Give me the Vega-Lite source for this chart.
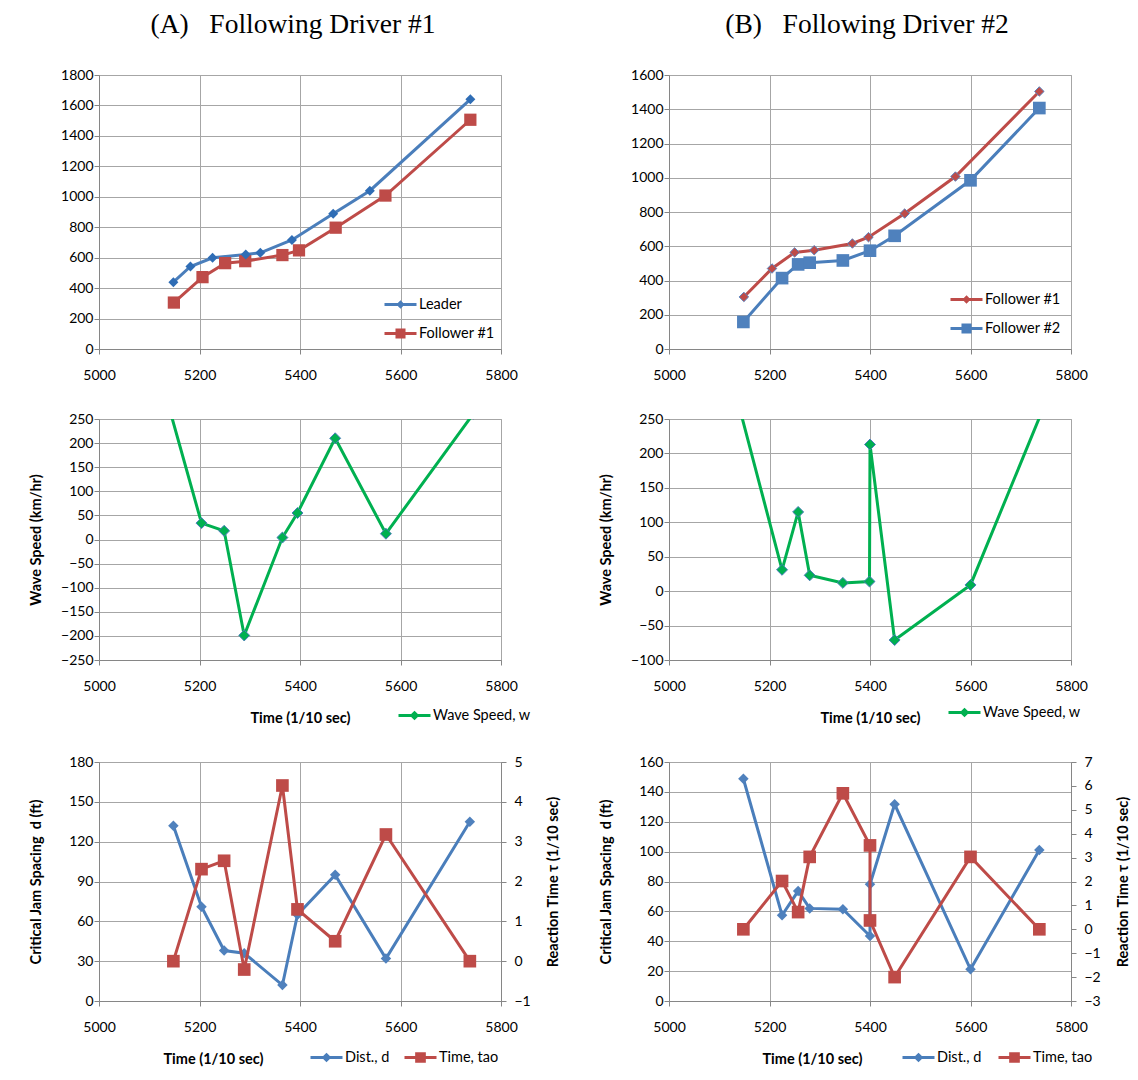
{
  "$schema": "https://vega.github.io/schema/vega-lite/v6.json",
  "padding": {"left": 27, "top": 10, "right": 2, "bottom": 2},
  "background": "white",
  "config": {
    "font": "Lato",
    "view": {"stroke": "#a6a6a6"},
    "axis": {"labelFont": "Lato", "labelFontSize": 14, "labelColor": "#000000", "titleFont": "Lato", "titleFontSize": 14.5, "titleFontWeight": "bold", "titleColor": "#000000", "gridColor": "#a6a6a6", "gridWidth": 1, "domainColor": "#868686", "tickColor": "#868686", "tickSize": 5, "labelOverlap": false, "labelFlush": false, "format": "d"},
    "axisX": {"labelPadding": 14, "titlePadding": 18},
    "axisY": {"labelPadding": 1},
    "legend": {"labelFont": "Lato", "labelFontSize": 14.5, "labelColor": "#000000", "symbolSize": 1024, "symbolStrokeWidth": 3, "symbolOpacity": 1, "labelOffset": 1, "padding": 0, "rowPadding": 5, "columnPadding": 16, "title": null, "orient": "none"},
    "title": {"font": "Liberation Serif", "fontSize": 27.5, "fontWeight": "normal", "color": "#000000", "anchor": "middle", "offset": 30}
  },
  "datasets": {
    "a1": [
      {"t": 5148, "v": 439, "s": "Leader"},
      {"t": 5182, "v": 542, "s": "Leader"},
      {"t": 5226, "v": 599, "s": "Leader"},
      {"t": 5292, "v": 621, "s": "Leader"},
      {"t": 5321, "v": 632, "s": "Leader"},
      {"t": 5384, "v": 716, "s": "Leader"},
      {"t": 5466, "v": 889, "s": "Leader"},
      {"t": 5539, "v": 1040, "s": "Leader"},
      {"t": 5739, "v": 1640, "s": "Leader"},
      {"t": 5149, "v": 305, "s": "Follower #1"},
      {"t": 5206, "v": 472, "s": "Follower #1"},
      {"t": 5251, "v": 564, "s": "Follower #1"},
      {"t": 5291, "v": 577, "s": "Follower #1"},
      {"t": 5365, "v": 617, "s": "Follower #1"},
      {"t": 5398, "v": 648, "s": "Follower #1"},
      {"t": 5471, "v": 797, "s": "Follower #1"},
      {"t": 5570, "v": 1008, "s": "Follower #1"},
      {"t": 5739, "v": 1506, "s": "Follower #1"}
    ],
    "b1": [
      {"t": 5149, "v": 304, "s": "Follower #1"},
      {"t": 5205, "v": 470, "s": "Follower #1"},
      {"t": 5250, "v": 564, "s": "Follower #1"},
      {"t": 5289, "v": 577, "s": "Follower #1"},
      {"t": 5365, "v": 616, "s": "Follower #1"},
      {"t": 5397, "v": 653, "s": "Follower #1"},
      {"t": 5469, "v": 791, "s": "Follower #1"},
      {"t": 5570, "v": 1007, "s": "Follower #1"},
      {"t": 5737, "v": 1504, "s": "Follower #1"},
      {"t": 5148, "v": 158, "s": "Follower #2"},
      {"t": 5225, "v": 414, "s": "Follower #2"},
      {"t": 5257, "v": 494, "s": "Follower #2"},
      {"t": 5280, "v": 504, "s": "Follower #2"},
      {"t": 5346, "v": 517, "s": "Follower #2"},
      {"t": 5400, "v": 574, "s": "Follower #2"},
      {"t": 5449, "v": 661, "s": "Follower #2"},
      {"t": 5600, "v": 985, "s": "Follower #2"},
      {"t": 5737, "v": 1407, "s": "Follower #2"}
    ],
    "a2": [
      {"t": 5140, "v": 272, "s": "Wave Speed, w"},
      {"t": 5204, "v": 34, "s": "Wave Speed, w"},
      {"t": 5249, "v": 18, "s": "Wave Speed, w"},
      {"t": 5289, "v": -199, "s": "Wave Speed, w"},
      {"t": 5365, "v": 4, "s": "Wave Speed, w"},
      {"t": 5395, "v": 55, "s": "Wave Speed, w"},
      {"t": 5470, "v": 210, "s": "Wave Speed, w"},
      {"t": 5571, "v": 12, "s": "Wave Speed, w"},
      {"t": 5745, "v": 261, "s": "Wave Speed, w"}
    ],
    "b2": [
      {"t": 5140, "v": 267, "s": "Wave Speed, w"},
      {"t": 5225, "v": 31, "s": "Wave Speed, w"},
      {"t": 5257, "v": 115, "s": "Wave Speed, w"},
      {"t": 5280, "v": 23, "s": "Wave Speed, w"},
      {"t": 5346, "v": 12, "s": "Wave Speed, w"},
      {"t": 5399, "v": 14, "s": "Wave Speed, w"},
      {"t": 5400, "v": 213, "s": "Wave Speed, w"},
      {"t": 5449, "v": -71, "s": "Wave Speed, w"},
      {"t": 5600, "v": 9, "s": "Wave Speed, w"},
      {"t": 5745, "v": 266, "s": "Wave Speed, w"}
    ],
    "a3": [
      {"i": 1, "t": 5148, "v": 132, "s": "Dist., d"},
      {"i": 2, "t": 5204, "v": 71, "s": "Dist., d"},
      {"i": 3, "t": 5249, "v": 38, "s": "Dist., d"},
      {"i": 4, "t": 5289, "v": 36, "s": "Dist., d"},
      {"i": 5, "t": 5365, "v": 12, "s": "Dist., d"},
      {"i": 6, "t": 5395, "v": 65, "s": "Dist., d"},
      {"i": 7, "t": 5470, "v": 95, "s": "Dist., d"},
      {"i": 8, "t": 5571, "v": 32, "s": "Dist., d"},
      {"i": 9, "t": 5738, "v": 135, "s": "Dist., d"},
      {"i": 1, "t": 5148, "v": 0, "s": "Time, tao"},
      {"i": 2, "t": 5204, "v": 2.31, "s": "Time, tao"},
      {"i": 3, "t": 5249, "v": 2.52, "s": "Time, tao"},
      {"i": 4, "t": 5289, "v": -0.21, "s": "Time, tao"},
      {"i": 5, "t": 5365, "v": 4.41, "s": "Time, tao"},
      {"i": 6, "t": 5395, "v": 1.3, "s": "Time, tao"},
      {"i": 7, "t": 5470, "v": 0.5, "s": "Time, tao"},
      {"i": 8, "t": 5571, "v": 3.18, "s": "Time, tao"},
      {"i": 9, "t": 5738, "v": 0, "s": "Time, tao"}
    ],
    "b3": [
      {"i": 1, "t": 5148, "v": 148.8, "s": "Dist., d"},
      {"i": 2, "t": 5225, "v": 57.4, "s": "Dist., d"},
      {"i": 3, "t": 5257, "v": 73.6, "s": "Dist., d"},
      {"i": 4, "t": 5280, "v": 62.0, "s": "Dist., d"},
      {"i": 5, "t": 5346, "v": 61.4, "s": "Dist., d"},
      {"i": 6, "t": 5400, "v": 43.5, "s": "Dist., d"},
      {"i": 7, "t": 5400, "v": 78.1, "s": "Dist., d"},
      {"i": 8, "t": 5449, "v": 131.7, "s": "Dist., d"},
      {"i": 9, "t": 5600, "v": 21.2, "s": "Dist., d"},
      {"i": 10, "t": 5737, "v": 101.1, "s": "Dist., d"},
      {"i": 1, "t": 5148, "v": 0, "s": "Time, tao"},
      {"i": 2, "t": 5225, "v": 2.02, "s": "Time, tao"},
      {"i": 3, "t": 5257, "v": 0.72, "s": "Time, tao"},
      {"i": 4, "t": 5280, "v": 3.03, "s": "Time, tao"},
      {"i": 5, "t": 5346, "v": 5.69, "s": "Time, tao"},
      {"i": 6, "t": 5400, "v": 3.51, "s": "Time, tao"},
      {"i": 7, "t": 5400, "v": 0.37, "s": "Time, tao"},
      {"i": 8, "t": 5449, "v": -2.0, "s": "Time, tao"},
      {"i": 9, "t": 5600, "v": 3.03, "s": "Time, tao"},
      {"i": 10, "t": 5737, "v": 0, "s": "Time, tao"}
    ]
  },
  "columns": 2,
  "spacing": {"row": 28, "column": 37},
  "resolve": {"scale": {"color": "independent", "stroke": "independent"}, "legend": {"color": "independent", "stroke": "independent"}},
  "concat": [
    {
      "title": {"text": "(A)\u00a0\u00a0\u00a0Following Driver #1", "dx": -7},
      "width": 402, "height": 274,
      "data": {"name": "a1"},
      "encoding": {
        "x": {"field": "t", "type": "quantitative", "scale": {"domain": [5000, 5800], "nice": false}, "axis": {"values": [5000, 5200, 5400, 5600, 5800], "title": null}},
        "y": {"field": "v", "type": "quantitative", "scale": {"domain": [0, 1800], "nice": false}, "axis": {"values": [0, 200, 400, 600, 800, 1000, 1200, 1400, 1600, 1800], "title": "\u00a0", "minExtent": 50, "titlePadding": 6}}
      },
      "layer": [
        {"transform": [{"filter": "datum.s === 'Follower #1'"}], "mark": {"type": "line", "strokeWidth": 3, "clip": true},
          "encoding": {"stroke": {"field": "s", "type": "nominal", "scale": {"domain": ["Follower #1"], "range": ["#be4b48"]},
            "legend": {"legendX": 284, "legendY": 241, "symbolType": "M-1,0H1M-0.22,-0.22H0.22V0.22H-0.22Z", "symbolFillColor": "#be4b48", "symbolStrokeColor": "#be4b48"}}}},
        {"transform": [{"filter": "datum.s === 'Leader'"}], "mark": {"type": "line", "strokeWidth": 3, "clip": true},
          "encoding": {"color": {"field": "s", "type": "nominal", "scale": {"domain": ["Leader"], "range": ["#4a7ebb"]},
            "legend": {"legendX": 284, "legendY": 212, "symbolType": "M-1,0H1M0,-0.13L0.13,0L0,0.13L-0.13,0Z", "symbolFillColor": "#2f6db5", "symbolStrokeColor": "#4a7ebb"}}}},
        {"transform": [{"filter": "datum.s === 'Follower #1'"}], "mark": {"type": "point", "shape": "square", "size": 150, "filled": true, "opacity": 1, "color": "#be4b48", "clip": true}},
        {"transform": [{"filter": "datum.s === 'Leader'"}], "mark": {"type": "point", "shape": "diamond", "size": 100, "filled": true, "opacity": 1, "color": "#2f6db5", "clip": true}}
      ]
    },
    {
      "title": {"text": "(B)\u00a0\u00a0\u00a0Following Driver #2", "dx": -3},
      "width": 402, "height": 274,
      "data": {"name": "b1"},
      "encoding": {
        "x": {"field": "t", "type": "quantitative", "scale": {"domain": [5000, 5800], "nice": false}, "axis": {"values": [5000, 5200, 5400, 5600, 5800], "title": null}},
        "y": {"field": "v", "type": "quantitative", "scale": {"domain": [0, 1600], "nice": false}, "axis": {"values": [0, 200, 400, 600, 800, 1000, 1200, 1400, 1600], "title": "\u00a0", "minExtent": 50, "titlePadding": 6}}
      },
      "layer": [
        {"transform": [{"filter": "datum.s === 'Follower #1'"}], "mark": {"type": "line", "strokeWidth": 3, "clip": true},
          "encoding": {"color": {"field": "s", "type": "nominal", "scale": {"domain": ["Follower #1"], "range": ["#be4b48"]},
            "legend": {"legendX": 280, "legendY": 207, "symbolType": "M-1,0H1M0,-0.13L0.13,0L0,0.13L-0.13,0Z", "symbolFillColor": "#be4b48", "symbolStrokeColor": "#be4b48"}}}},
        {"transform": [{"filter": "datum.s === 'Follower #2'"}], "mark": {"type": "line", "strokeWidth": 3, "clip": true},
          "encoding": {"stroke": {"field": "s", "type": "nominal", "scale": {"domain": ["Follower #2"], "range": ["#4a7ebb"]},
            "legend": {"legendX": 280, "legendY": 236, "symbolType": "M-1,0H1M-0.22,-0.22H0.22V0.22H-0.22Z", "symbolFillColor": "#4f81bd", "symbolStrokeColor": "#4a7ebb"}}}},
        {"transform": [{"filter": "datum.s === 'Follower #1'"}], "mark": {"type": "point", "shape": "diamond", "size": 90, "filled": true, "opacity": 1, "fill": "#be4b48", "stroke": "#5a84c0", "strokeWidth": 1, "clip": true}},
        {"transform": [{"filter": "datum.s === 'Follower #2'"}], "mark": {"type": "point", "shape": "square", "size": 160, "filled": true, "opacity": 1, "color": "#4f81bd", "clip": true}}
      ]
    },
    {
      "width": 402, "height": 241,
      "data": {"name": "a2"},
      "encoding": {
        "x": {"field": "t", "type": "quantitative", "scale": {"domain": [5000, 5800], "nice": false}, "axis": {"values": [5000, 5200, 5400, 5600, 5800], "title": "Time (1/10 sec)"}},
        "y": {"field": "v", "type": "quantitative", "scale": {"domain": [-250, 250], "nice": false}, "axis": {"values": [-250, -200, -150, -100, -50, 0, 50, 100, 150, 200, 250], "title": "Wave Speed (km/hr)", "minExtent": 50, "titlePadding": 6}}
      },
      "layer": [
        {"mark": {"type": "line", "strokeWidth": 3, "clip": true}, "encoding": {"color": {"field": "s", "type": "nominal", "scale": {"domain": ["Wave Speed, w"], "range": ["#00b050"]},
          "legend": {"legendX": 298, "legendY": 279, "symbolType": "M-1,0H1M0,-0.17L0.17,0L0,0.17L-0.17,0Z", "symbolFillColor": "#00b050", "symbolStrokeColor": "#00b050"}}}},
        {"mark": {"type": "point", "shape": "diamond", "size": 120, "filled": true, "opacity": 1, "fill": "#00b050", "stroke": "#4a7ebb", "strokeWidth": 1, "clip": true}}
      ]
    },
    {
      "width": 402, "height": 241,
      "data": {"name": "b2"},
      "encoding": {
        "x": {"field": "t", "type": "quantitative", "scale": {"domain": [5000, 5800], "nice": false}, "axis": {"values": [5000, 5200, 5400, 5600, 5800], "title": "Time (1/10 sec)"}},
        "y": {"field": "v", "type": "quantitative", "scale": {"domain": [-100, 250], "nice": false}, "axis": {"values": [-100, -50, 0, 50, 100, 150, 200, 250], "title": "Wave Speed (km/hr)", "minExtent": 50, "titlePadding": 6}}
      },
      "layer": [
        {"mark": {"type": "line", "strokeWidth": 3, "clip": true}, "encoding": {"color": {"field": "s", "type": "nominal", "scale": {"domain": ["Wave Speed, w"], "range": ["#00b050"]},
          "legend": {"legendX": 278, "legendY": 276, "symbolType": "M-1,0H1M0,-0.17L0.17,0L0,0.17L-0.17,0Z", "symbolFillColor": "#00b050", "symbolStrokeColor": "#00b050"}}}},
        {"mark": {"type": "point", "shape": "diamond", "size": 120, "filled": true, "opacity": 1, "fill": "#00b050", "stroke": "#4a7ebb", "strokeWidth": 1, "clip": true}}
      ]
    },
    {
      "width": 402, "height": 239,
      "data": {"name": "a3"},
      "encoding": {
        "x": {"field": "t", "type": "quantitative", "scale": {"domain": [5000, 5800], "nice": false}, "axis": {"values": [5000, 5200, 5400, 5600, 5800], "title": "Time (1/10 sec)", "titleX": 114}}
      },
      "layer": [
        {
          "transform": [{"filter": "datum.s === 'Dist., d'"}],
          "encoding": {"y": {"field": "v", "type": "quantitative", "scale": {"domain": [0, 180], "nice": false}, "axis": {"values": [0, 30, 60, 90, 120, 150, 180], "title": "Critical Jam Spacing\u00a0 d (ft)", "minExtent": 50, "titlePadding": 6}}},
          "layer": [
            {"mark": {"type": "line", "strokeWidth": 3, "clip": true}, "encoding": {"order": {"field": "i", "type": "quantitative"}, "color": {"field": "s", "type": "nominal", "scale": {"domain": ["Dist., d"], "range": ["#4a7ebb"]},
              "legend": {"legendX": 210, "legendY": 278, "symbolType": "M-1,0H1M0,-0.17L0.17,0L0,0.17L-0.17,0Z", "symbolFillColor": "#4f81bd", "symbolStrokeColor": "#4a7ebb"}}}},
            {"mark": {"type": "point", "shape": "diamond", "size": 110, "filled": true, "opacity": 1, "color": "#4f81bd", "clip": true}}
          ]
        },
        {
          "transform": [{"filter": "datum.s === 'Time, tao'"}],
          "encoding": {"y": {"field": "v", "type": "quantitative", "scale": {"domain": [-1, 5], "nice": false}, "axis": {"orient": "right", "values": [-1, 0, 1, 2, 3, 4, 5], "grid": false, "labelPadding": 8, "title": "Reaction Time \u03c4 (1/10 sec)", "titleAngle": -90, "titleBaseline": "top", "minExtent": 40, "titlePadding": 5}}},
          "layer": [
            {"mark": {"type": "line", "strokeWidth": 3, "clip": true}, "encoding": {"order": {"field": "i", "type": "quantitative"}, "stroke": {"field": "s", "type": "nominal", "scale": {"domain": ["Time, tao"], "range": ["#be4b48"]},
              "legend": {"legendX": 304, "legendY": 278, "symbolType": "M-1,0H1M-0.24,-0.24H0.24V0.24H-0.24Z", "symbolFillColor": "#be4b48", "symbolStrokeColor": "#be4b48"}}}},
            {"mark": {"type": "point", "shape": "square", "size": 160, "filled": true, "opacity": 1, "color": "#be4b48", "clip": true}}
          ]
        }
      ],
      "resolve": {"scale": {"y": "independent"}}
    },
    {
      "width": 402, "height": 239,
      "data": {"name": "b3"},
      "encoding": {
        "x": {"field": "t", "type": "quantitative", "scale": {"domain": [5000, 5800], "nice": false}, "axis": {"values": [5000, 5200, 5400, 5600, 5800], "title": "Time (1/10 sec)", "titleX": 143}}
      },
      "layer": [
        {
          "transform": [{"filter": "datum.s === 'Dist., d'"}],
          "encoding": {"y": {"field": "v", "type": "quantitative", "scale": {"domain": [0, 160], "nice": false}, "axis": {"values": [0, 20, 40, 60, 80, 100, 120, 140, 160], "title": "Critical Jam Spacing\u00a0 d (ft)", "minExtent": 50, "titlePadding": 6}}},
          "layer": [
            {"mark": {"type": "line", "strokeWidth": 3, "clip": true}, "encoding": {"order": {"field": "i", "type": "quantitative"}, "color": {"field": "s", "type": "nominal", "scale": {"domain": ["Dist., d"], "range": ["#4a7ebb"]},
              "legend": {"legendX": 232, "legendY": 278, "symbolType": "M-1,0H1M0,-0.17L0.17,0L0,0.17L-0.17,0Z", "symbolFillColor": "#4f81bd", "symbolStrokeColor": "#4a7ebb"}}}},
            {"mark": {"type": "point", "shape": "diamond", "size": 110, "filled": true, "opacity": 1, "color": "#4f81bd", "clip": true}}
          ]
        },
        {
          "transform": [{"filter": "datum.s === 'Time, tao'"}],
          "encoding": {"y": {"field": "v", "type": "quantitative", "scale": {"domain": [-3, 7], "nice": false}, "axis": {"orient": "right", "values": [-3, -2, -1, 0, 1, 2, 3, 4, 5, 6, 7], "grid": false, "labelPadding": 8, "title": "Reaction Time \u03c4 (1/10 sec)", "titleAngle": -90, "titleBaseline": "top", "minExtent": 40, "titlePadding": 5}}},
          "layer": [
            {"mark": {"type": "line", "strokeWidth": 3, "clip": true}, "encoding": {"order": {"field": "i", "type": "quantitative"}, "stroke": {"field": "s", "type": "nominal", "scale": {"domain": ["Time, tao"], "range": ["#be4b48"]},
              "legend": {"legendX": 328, "legendY": 278, "symbolType": "M-1,0H1M-0.24,-0.24H0.24V0.24H-0.24Z", "symbolFillColor": "#be4b48", "symbolStrokeColor": "#be4b48"}}}},
            {"mark": {"type": "point", "shape": "square", "size": 160, "filled": true, "opacity": 1, "color": "#be4b48", "clip": true}}
          ]
        }
      ],
      "resolve": {"scale": {"y": "independent"}}
    }
  ]
}
